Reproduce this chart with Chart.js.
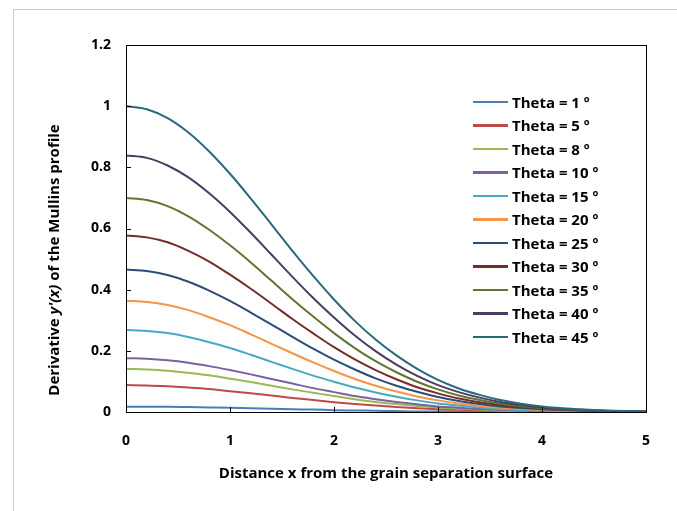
<!DOCTYPE html>
<html lang="en">
<head>
<meta charset="UTF-8">
<title>Mullins profile derivative</title>
<script src="https://cdn.jsdelivr.net/npm/chart.js"></script>
<style>
  body { margin: 0; overflow: hidden; background: #fff; }
  #wrap { position: relative; width: 677px; height: 511px; }
  #frame { position: absolute; left: 13px; top: 9px; width: 700px; height: 600px; border: 1px solid #c9c9dd; }
  #legend { position: absolute; left: 473px; top: 90px; font: bold 15px "Open Sans", sans-serif; color: #000; }
  #legend div { height: 23.5px; display: flex; align-items: center; }
  #legend span.sw { display: inline-block; width: 35px; height: 2.5px; margin-right: 4px; }
</style>
</head>
<body>
<div id="wrap">
  <div id="frame"></div>
  <canvas id="chart" width="677" height="511"></canvas>
  <div id="legend"></div>
</div>
<script>
// distance x from the grain separation surface
const xValues = [0, 0.2, 0.4, 0.6, 0.8, 1, 1.2, 1.4, 1.6, 1.8, 2, 2.2, 2.4, 2.6, 2.8, 3, 3.2, 3.4, 3.6, 3.8, 4, 4.2, 4.4, 4.6, 4.8, 5];

const theta1  = [0.017, 0.017, 0.017, 0.016, 0.015, 0.014, 0.012, 0.011, 0.009, 0.008, 0.006, 0.005, 0.004, 0.003, 0.002, 0.002, 0.001, 0.001, 0.001, 0, 0, 0, 0, 0, 0, 0];
const theta5  = [0.088, 0.087, 0.084, 0.080, 0.075, 0.068, 0.061, 0.054, 0.046, 0.039, 0.032, 0.026, 0.021, 0.016, 0.012, 0.009, 0.007, 0.005, 0.003, 0.002, 0.002, 0.001, 0.001, 0, 0, 0];
const theta8  = [0.141, 0.139, 0.135, 0.128, 0.120, 0.109, 0.098, 0.086, 0.074, 0.063, 0.052, 0.042, 0.033, 0.026, 0.020, 0.015, 0.011, 0.008, 0.005, 0.004, 0.003, 0.002, 0.001, 0.001, 0, 0];
const theta10 = [0.176, 0.174, 0.169, 0.161, 0.150, 0.137, 0.123, 0.108, 0.093, 0.078, 0.065, 0.052, 0.042, 0.033, 0.025, 0.018, 0.014, 0.010, 0.007, 0.005, 0.003, 0.002, 0.001, 0.001, 0.001, 0];
const theta15 = [0.268, 0.265, 0.258, 0.245, 0.228, 0.209, 0.187, 0.164, 0.141, 0.119, 0.099, 0.080, 0.064, 0.050, 0.038, 0.028, 0.021, 0.015, 0.010, 0.007, 0.005, 0.003, 0.002, 0.001, 0.001, 0.001];
const theta20 = [0.364, 0.360, 0.350, 0.333, 0.310, 0.284, 0.254, 0.223, 0.192, 0.162, 0.134, 0.108, 0.086, 0.067, 0.051, 0.038, 0.028, 0.020, 0.014, 0.010, 0.007, 0.004, 0.003, 0.002, 0.001, 0.001];
const theta25 = [0.466, 0.461, 0.448, 0.426, 0.397, 0.363, 0.325, 0.286, 0.246, 0.207, 0.171, 0.139, 0.110, 0.086, 0.066, 0.049, 0.036, 0.026, 0.018, 0.013, 0.009, 0.006, 0.004, 0.002, 0.001, 0.001];
const theta30 = [0.577, 0.571, 0.555, 0.527, 0.492, 0.449, 0.403, 0.354, 0.304, 0.257, 0.212, 0.172, 0.137, 0.107, 0.081, 0.061, 0.044, 0.032, 0.023, 0.016, 0.011, 0.007, 0.005, 0.003, 0.002, 0.001];
const theta35 = [0.700, 0.693, 0.673, 0.640, 0.596, 0.545, 0.489, 0.429, 0.369, 0.312, 0.258, 0.209, 0.166, 0.130, 0.099, 0.074, 0.054, 0.039, 0.027, 0.019, 0.013, 0.008, 0.006, 0.004, 0.002, 0.001];
const theta40 = [0.839, 0.831, 0.806, 0.767, 0.715, 0.654, 0.586, 0.514, 0.442, 0.373, 0.309, 0.250, 0.199, 0.155, 0.118, 0.088, 0.065, 0.047, 0.033, 0.023, 0.015, 0.010, 0.007, 0.004, 0.003, 0.002];
const theta45 = [1.000, 0.990, 0.961, 0.914, 0.852, 0.779, 0.698, 0.613, 0.527, 0.445, 0.368, 0.298, 0.237, 0.185, 0.141, 0.105, 0.077, 0.056, 0.039, 0.027, 0.018, 0.012, 0.008, 0.005, 0.003, 0.002];

const seriesNames = ["Theta = 1 º", "Theta = 5 º", "Theta = 8 º", "Theta = 10 º", "Theta = 15 º", "Theta = 20 º",
  "Theta = 25 º", "Theta = 30 º", "Theta = 35 º", "Theta = 40 º", "Theta = 45 º"];
const seriesValues = [theta1, theta5, theta8, theta10, theta15, theta20, theta25, theta30, theta35, theta40, theta45];
const seriesColors = ["#4a7ebb", "#be4b48", "#98b954", "#7d60a0", "#46aac5", "#f69545",
  "#2c4d75", "#772c2a", "#5f7530", "#4d3b62", "#276a7c"];

const xTicks = [0, 1, 2, 3, 4, 5];
const yTicks = [0, 0.2, 0.4, 0.6, 0.8, 1, 1.2];

// y axis title, the middle piece is italic
const yTitleParts = [["Derivative ", ""], ["y'(x)", "italic "], [" of the Mullins profile", ""]];

const datasets = seriesValues.map((vals, i) => ({
  label: seriesNames[i],
  data: vals.map((v, j) => ({ x: xValues[j], y: v })),
  borderColor: seriesColors[i],
  backgroundColor: seriesColors[i],
  borderWidth: 2,
  pointRadius: 0,
  cubicInterpolationMode: 'monotone',
  order: seriesValues.length - i
}));

// plot box, inward tick marks and the y title
const boxPlugin = {
  id: 'box',
  afterDraw(chart) {
    const ctx = chart.ctx;
    const a = chart.chartArea;
    const xs = chart.scales.x, ys = chart.scales.y;
    ctx.save();
    ctx.strokeStyle = '#000';
    ctx.lineWidth = 1;
    ctx.strokeRect(a.left + 0.5, a.top + 0.5, a.right - a.left, a.bottom - a.top);
    ctx.beginPath();
    xTicks.forEach(t => {
      const px = Math.round(xs.getPixelForValue(t)) + 0.5;
      ctx.moveTo(px, a.bottom);
      ctx.lineTo(px, a.bottom - 5);
    });
    yTicks.forEach(t => {
      const py = Math.round(ys.getPixelForValue(t)) + 0.5;
      ctx.moveTo(a.left, py);
      ctx.lineTo(a.left + 5, py);
    });
    ctx.stroke();

    // y title
    ctx.translate(55, 260);
    ctx.rotate(-Math.PI / 2);
    ctx.fillStyle = '#000';
    ctx.textBaseline = 'middle';
    ctx.textAlign = 'left';
    let total = 0;
    yTitleParts.forEach(p => { ctx.font = p[1] + 'bold 15px "Open Sans"'; total += ctx.measureText(p[0]).width; });
    let cx = -total / 2;
    yTitleParts.forEach(p => {
      ctx.font = p[1] + 'bold 15px "Open Sans"';
      ctx.fillText(p[0], cx, 0);
      cx += ctx.measureText(p[0]).width;
    });
    ctx.restore();
  }
};

const tickFont = { family: 'Open Sans', size: 14, weight: 'bold' };
const titleFont = { family: 'Open Sans', size: 15, weight: 'bold' };

new Chart(document.getElementById('chart'), {
  type: 'line',
  data: { datasets: datasets },
  options: {
    responsive: false,
    animation: false,
    layout: { padding: { left: 47, right: 31, top: 45, bottom: 28 } },
    plugins: { legend: { display: false }, tooltip: { enabled: false } },
    scales: {
      x: {
        type: 'linear',
        min: 0, max: 5,
        afterFit(scale) { scale.height = 71; },
        grid: { display: false, drawTicks: false },
        border: { display: false },
        ticks: { stepSize: 1, padding: 21, color: '#000', font: tickFont },
        title: { display: true, text: 'Distance x from the grain separation surface', color: '#000', font: titleFont, padding: 0 }
      },
      y: {
        min: 0, max: 1.2,
        afterFit(scale) { scale.width = 79; },
        grid: { display: false, drawTicks: false },
        border: { display: false },
        ticks: { stepSize: 0.2, padding: 15, color: '#000', font: tickFont, callback: v => String(Math.round(v * 10) / 10) },
        title: { display: false }
      }
    }
  },
  plugins: [boxPlugin]
});

// legend
const legend = document.getElementById('legend');
seriesNames.forEach((name, i) => {
  const row = document.createElement('div');
  const sw = document.createElement('span');
  sw.className = 'sw';
  sw.style.background = seriesColors[i];
  row.appendChild(sw);
  row.appendChild(document.createTextNode(name));
  legend.appendChild(row);
});
</script>
</body>
</html>
